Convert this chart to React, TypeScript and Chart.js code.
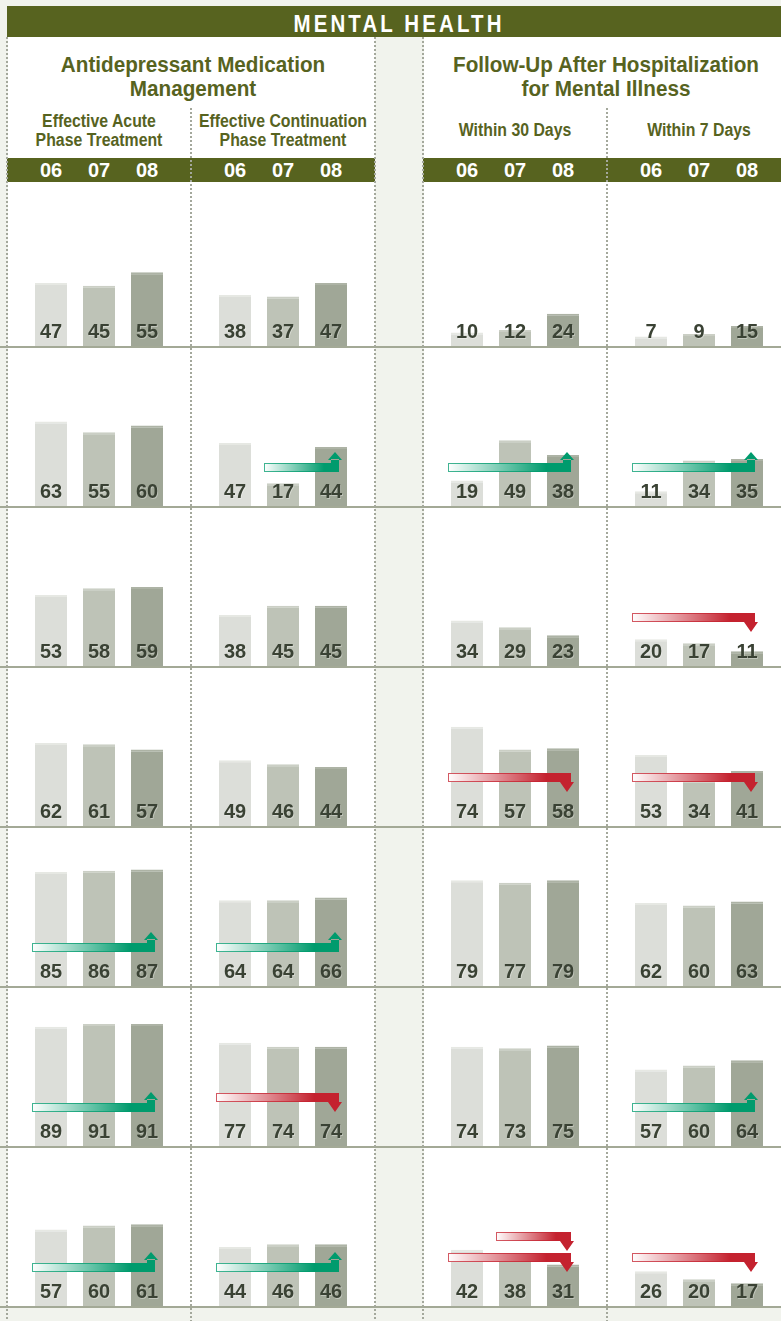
import React, { useEffect, useRef } from "react";
import { Chart, registerables } from "chart.js";

Chart.register(...registerables);

// ---------------- DATA ----------------
const pageTitle = "MENTAL HEALTH";
const groupTitles = ["Antidepressant Medication\nManagement", "Follow-Up After Hospitalization\nfor Mental Illness"];
const measureTitles = ["Effective Acute\nPhase Treatment", "Effective Continuation\nPhase Treatment", "Within 30 Days", "Within 7 Days"];
const years = ["06", "07", "08"];

const acutePhase = [[47, 45, 55], [63, 55, 60], [53, 58, 59], [62, 61, 57], [85, 86, 87], [89, 91, 91], [57, 60, 61]];
const continuationPhase = [[38, 37, 47], [47, 17, 44], [38, 45, 45], [49, 46, 44], [64, 64, 66], [77, 74, 74], [44, 46, 46]];
const within30Days = [[10, 12, 24], [19, 49, 38], [34, 29, 23], [74, 57, 58], [79, 77, 79], [74, 73, 75], [42, 38, 31]];
const within7Days = [[7, 9, 15], [11, 34, 35], [20, 17, 11], [53, 34, 41], [62, 60, 63], [57, 60, 64], [26, 20, 17]];

// trend arrows: row, column, starting year index, direction, stacking level
const trendArrows = [
  { row: 1, col: 1, from: 1, dir: "up", level: 0 },
  { row: 1, col: 2, from: 0, dir: "up", level: 0 },
  { row: 1, col: 3, from: 0, dir: "up", level: 0 },
  { row: 2, col: 3, from: 0, dir: "down", level: 0 },
  { row: 3, col: 2, from: 0, dir: "down", level: 0 },
  { row: 3, col: 3, from: 0, dir: "down", level: 0 },
  { row: 4, col: 0, from: 0, dir: "up", level: 0 },
  { row: 4, col: 1, from: 0, dir: "up", level: 0 },
  { row: 5, col: 0, from: 0, dir: "up", level: 0 },
  { row: 5, col: 1, from: 0, dir: "down", level: 0 },
  { row: 5, col: 3, from: 0, dir: "up", level: 0 },
  { row: 6, col: 0, from: 0, dir: "up", level: 0 },
  { row: 6, col: 1, from: 0, dir: "up", level: 0 },
  { row: 6, col: 2, from: 0, dir: "down", level: 0 },
  { row: 6, col: 2, from: 1, dir: "down", level: 1 },
  { row: 6, col: 3, from: 0, dir: "down", level: 0 },
];

const columnsData = [acutePhase, continuationPhase, within30Days, within7Days];

// ---------------- STYLE ----------------
const OLIVE = "#57631f";
const BG = "#f1f3ed";
const BAR_COLORS = ["#dcded9", "#bec3b7", "#a0a797"];
const BAR_TOPS = ["#e6e8e3", "#cbcfc5", "#adb3a5"];
const LABEL_COLOR = "#3a4234";
const GREEN = "#009b6d";
const RED = "#c4222f";
const FONT = "'Liberation Sans', Arial, Helvetica, sans-serif";

const ROW_BASE0 = 346;
const ROW_H = 160;
const COLS = [
  { left: 7, width: 184, pl: 20, pr: 20 },
  { left: 191, width: 184, pl: 20, pr: 20 },
  { left: 423, width: 184, pl: 20, pr: 20 },
  { left: 607, width: 174, pl: 20, pr: 10 },
];

type Arrow = { row: number; col: number; from: number; dir: string; level: number };

function MiniChart(props: { values: number[]; arrows: Arrow[]; left: number; top: number; width: number; pl: number; pr: number }) {
  const ref = useRef<HTMLCanvasElement | null>(null);
  const { values, arrows, left, top, width, pl, pr } = props;
  useEffect(() => {
    if (!ref.current) return;
    const overlay = {
      id: "overlay",
      afterDatasetsDraw(chart: any) {
        const ctx = chart.ctx as CanvasRenderingContext2D;
        const meta = chart.getDatasetMeta(0);
        const base = chart.chartArea.bottom;
        ctx.save();
        ctx.font = `bold 20px ${FONT}`;
        ctx.textAlign = "center";
        ctx.textBaseline = "alphabetic";
        meta.data.forEach((bar: any, i: number) => {
          ctx.fillStyle = "rgba(255,255,255,0.35)";
          ctx.fillText(String(values[i]), bar.x + 0.8, base - 7.2);
          ctx.fillStyle = LABEL_COLOR;
          ctx.fillText(String(values[i]), bar.x, base - 8);
        });
        arrows.forEach((a) => {
          const start: any = meta.data[a.from];
          const end: any = meta.data[2];
          const x0 = start.x - start.width / 2 - 3;
          const x1 = end.x + 8;
          const color = a.dir === "up" ? GREEN : RED;
          const cx = x1 - 4;
          const off = a.level * 21;
          const yTop = a.dir === "up" ? base - 43 : base - 53 - off;
          const h = 9;
          const g = ctx.createLinearGradient(x0, 0, x1, 0);
          g.addColorStop(0, "#ffffff");
          g.addColorStop(0.8, color);
          g.addColorStop(1, color);
          ctx.fillStyle = g;
          ctx.fillRect(x0, yTop, x1 - x0, h);
          ctx.strokeStyle = color;
          ctx.globalAlpha = 0.75;
          ctx.lineWidth = 1;
          ctx.strokeRect(x0 + 0.5, yTop + 0.5, x1 - x0 - 1, h - 1);
          ctx.globalAlpha = 1;
          ctx.fillStyle = color;
          ctx.beginPath();
          if (a.dir === "up") {
            ctx.rect(x1 - 8, base - 47, 8, 13);
            ctx.moveTo(cx - 7, base - 46);
            ctx.lineTo(cx + 7, base - 46);
            ctx.lineTo(cx, base - 54);
            ctx.closePath();
          } else {
            ctx.rect(x1 - 8, yTop, 8, 12);
            ctx.moveTo(cx - 7, base - 44 - off);
            ctx.lineTo(cx + 7, base - 44 - off);
            ctx.lineTo(cx, base - 34 - off);
            ctx.closePath();
          }
          ctx.fill();
        });
        ctx.restore();
      },
    };
    const chart = new Chart(ref.current, {
      type: "bar",
      data: {
        labels: years,
        datasets: [
          {
            data: values,
            backgroundColor: BAR_COLORS,
            borderColor: BAR_TOPS,
            borderWidth: { top: 2, left: 0, right: 0, bottom: 0 },
            borderSkipped: false,
            barPercentage: 32 / 48,
            categoryPercentage: 1,
          },
        ],
      },
      options: {
        animation: false,
        responsive: false,
        devicePixelRatio: 1,
        layout: { padding: { top: 26, bottom: 0, left: pl, right: pr } },
        scales: {
          x: { display: false },
          y: { display: false, min: 0, max: 100 },
        },
        plugins: { legend: { display: false }, tooltip: { enabled: false } },
      } as any,
      plugins: [overlay],
    } as any);
    return () => chart.destroy();
  }, []);
  return (
    <canvas
      ref={ref}
      width={width}
      height={ROW_H}
      style={{ position: "absolute", left, top, width, height: ROW_H, zIndex: 3 }}
    />
  );
}

function Text(props: { cx: number; top: number; size: number; lh: number; scale: number; color: string; children: any; spacing?: number; z?: number }) {
  const { cx, top, size, lh, scale, color, children, spacing, z } = props;
  return (
    <div
      style={{
        position: "absolute",
        left: cx - 200,
        top,
        width: 400,
        textAlign: "center",
        fontFamily: FONT,
        fontWeight: 700,
        fontSize: size,
        lineHeight: `${lh}px`,
        color,
        whiteSpace: "pre",
        letterSpacing: spacing ? `${spacing}px` : undefined,
        transform: `scaleX(${scale})`,
        transformOrigin: "center",
        zIndex: z ?? 2,
      }}
    >
      {children}
    </div>
  );
}

function Dotted(props: { x: number; top: number }) {
  return (
    <div
      style={{
        position: "absolute",
        left: props.x - 1,
        top: props.top,
        width: 2,
        height: 1321 - props.top,
        backgroundImage: "repeating-linear-gradient(to bottom, #a4a89c 0px, #a4a89c 2px, transparent 2px, transparent 4px)",
        zIndex: 6,
      }}
    />
  );
}

export default function App() {
  const barCenters = COLS.map((c) => [0, 1, 2].map((i) => c.left + c.pl + 24 + i * 48));
  const rows = [0, 1, 2, 3, 4, 5, 6];
  return (
    <div style={{ position: "absolute", left: 0, top: 0, width: 781, height: 1321, background: BG, overflow: "hidden" }}>
      {/* header */}
      <div style={{ position: "absolute", left: 7, top: 6, width: 774, height: 31, background: OLIVE, zIndex: 1 }} />
      <Text cx={399} top={8.5} size={23} lh={31} scale={0.89} color="#ffffff" spacing={3.5}>
        {pageTitle}
      </Text>
      {/* panels */}
      <div style={{ position: "absolute", left: 8, top: 37, width: 367, height: 1269, background: "#ffffff", zIndex: 1 }} />
      <div style={{ position: "absolute", left: 424, top: 37, width: 357, height: 1269, background: "#ffffff", zIndex: 1 }} />
      {/* titles */}
      <Text cx={193} top={53.4} size={22} lh={24} scale={0.94} color={OLIVE}>{groupTitles[0]}</Text>
      <Text cx={606} top={53.4} size={22} lh={24} scale={0.94} color={OLIVE}>{groupTitles[1]}</Text>
      <Text cx={99} top={112.3} size={18} lh={19} scale={0.88} color={OLIVE}>{measureTitles[0]}</Text>
      <Text cx={283} top={112.3} size={18} lh={19} scale={0.88} color={OLIVE}>{measureTitles[1]}</Text>
      <Text cx={515} top={121.3} size={18} lh={19} scale={0.88} color={OLIVE}>{measureTitles[2]}</Text>
      <Text cx={699} top={121.3} size={18} lh={19} scale={0.88} color={OLIVE}>{measureTitles[3]}</Text>
      {/* year bars */}
      <div style={{ position: "absolute", left: 7, top: 158, width: 368, height: 24, background: OLIVE, zIndex: 1 }} />
      <div style={{ position: "absolute", left: 423, top: 158, width: 358, height: 24, background: OLIVE, zIndex: 1 }} />
      {barCenters.map((cs, ci) =>
        cs.map((x, i) => (
          <Text key={`y${ci}-${i}`} cx={x} top={158} size={20} lh={24} scale={1} color="#ffffff">
            {years[i]}
          </Text>
        ))
      )}
      {/* charts */}
      {rows.map((r) =>
        COLS.map((c, ci) => (
          <MiniChart
            key={`c${r}-${ci}`}
            values={columnsData[ci][r]}
            arrows={trendArrows.filter((a) => a.row === r && a.col === ci)}
            left={c.left}
            top={ROW_BASE0 + r * ROW_H - ROW_H}
            width={c.width}
            pl={c.pl}
            pr={c.pr}
          />
        ))
      )}
      {/* row lines */}
      {rows.map((r) => (
        <div
          key={`l${r}`}
          style={{ position: "absolute", left: 0, top: ROW_BASE0 + r * ROW_H, width: 781, height: 2, background: "#a3a996", zIndex: 5 }}
        />
      ))}
      {/* dotted separators */}
      <Dotted x={7} top={37} />
      <Dotted x={191} top={108} />
      <Dotted x={375} top={37} />
      <Dotted x={423} top={37} />
      <Dotted x={607} top={108} />
    </div>
  );
}
